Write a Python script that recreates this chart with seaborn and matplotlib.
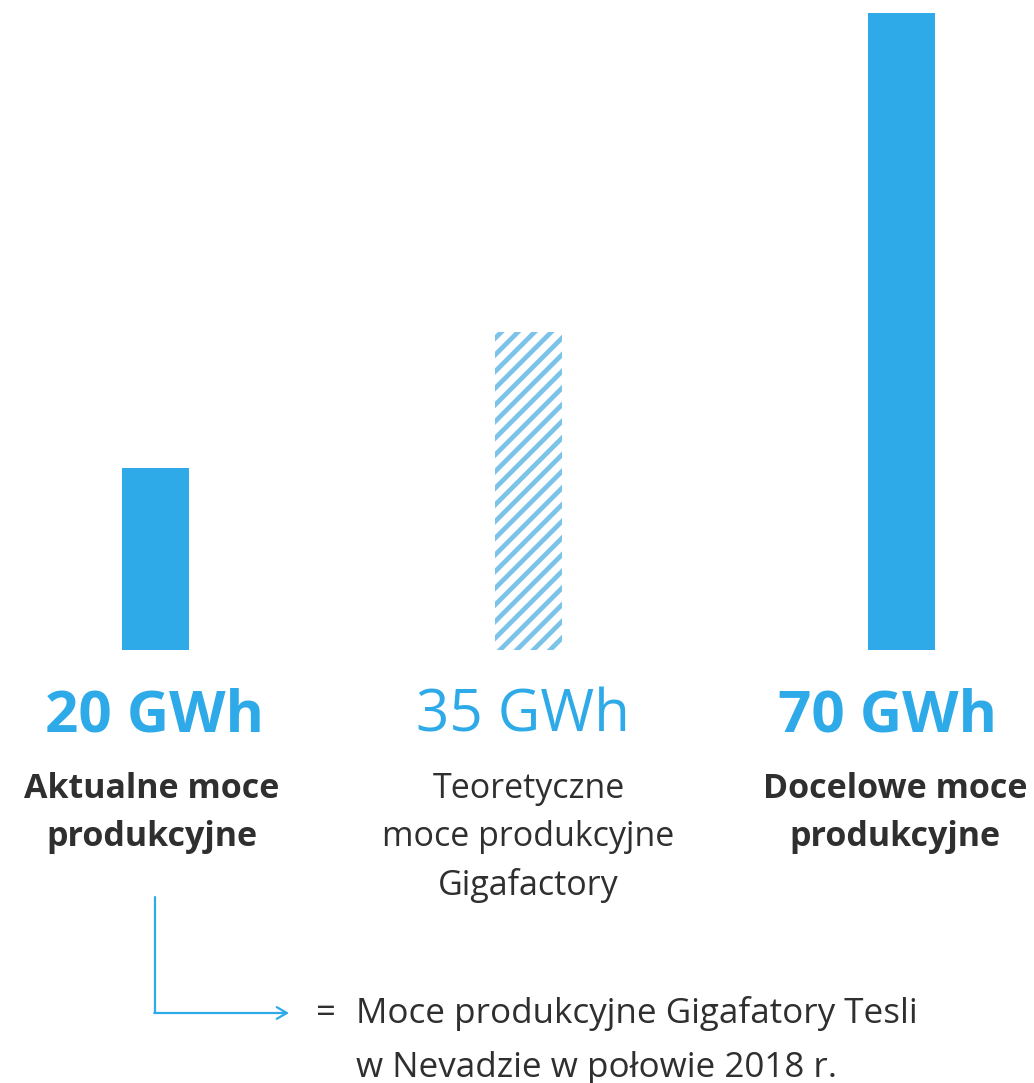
import matplotlib
matplotlib.use("Agg")
import matplotlib.pyplot as plt
import matplotlib.transforms as mtransforms
import seaborn as sns
import pandas as pd

# ---- data ----
categories = ["Aktualne", "Teoretyczne", "Docelowe"]
values = [20, 35, 70]
value_labels = ["20 GWh", "35 GWh", "70 GWh"]
desc_labels = [
    ["Aktualne moce", "produkcyjne"],
    ["Teoretyczne", "moce produkcyjne", "Gigafactory"],
    ["Docelowe moce", "produkcyjne"],
]
note_lines = ["Moce produkcyjne Gigafatory Tesli", "w Nevadzie w połowie 2018 r."]

BLUE = "#2eaae8"
HATCH = "#7cc3ea"
DARK = "#2f2f2f"

sns.set_theme(style="white")
plt.rcParams["font.family"] = ["Open Sans", "DejaVu Sans"]
plt.rcParams["hatch.linewidth"] = 3.4

W, H = 1034, 1083
fig = plt.figure(figsize=(W / 100, H / 100), dpi=100)
fig.patch.set_facecolor("white")

# axes: bottom of bars at y=650px from top
ax_bottom = (H - 650) / H
ax = fig.add_axes([0, ax_bottom, 1, 1 - ax_bottom])
ax.set_facecolor("none")

df = pd.DataFrame({"cat": categories, "val": values})
sns.barplot(data=df, x="cat", y="val", ax=ax, color=BLUE, width=67 / 373,
            saturation=1, linewidth=0)

# hatched middle bar
mid = ax.patches[1]
mid.set_facecolor("white")
mid.set_edgecolor(HATCH)
mid.set_hatch("//")
mid.set_linewidth(0)
for p in (ax.patches[0], ax.patches[2]):
    p.set_edgecolor("none")

spacing = 373.0
ax.set_xlim(-155.5 / spacing, (W - 155.5) / spacing)
ax.set_ylim(0, 650 / 9.1)
ax.axis("off")

trans = mtransforms.blended_transform_factory(ax.transData, fig.transFigure)

def fy(px):
    return (H - px) / H

# value labels
gwh_x = [-0.004, 0.984, 1.963]
weights = ["bold", "normal", "bold"]
for i, lab in enumerate(value_labels):
    ax.text(gwh_x[i], fy(732), lab, transform=trans, ha="center", va="baseline",
            fontsize=42, color=BLUE, fontweight=weights[i])

# descriptive labels
desc_x = [-0.01, 1.0, 1.983]
for i, lines in enumerate(desc_labels):
    for j, line in enumerate(lines):
        ax.text(desc_x[i], fy(798 + j * 48.5), line, transform=trans,
                ha="center", va="baseline", fontsize=24.5, color=DARK,
                fontweight=weights[i])

# arrow connector
fig.add_artist(plt.Line2D([155 / W, 155 / W], [fy(897), fy(1013)],
                          color=BLUE, lw=1.6, transform=fig.transFigure))
ax.annotate("", xy=(289 / W, fy(1013)), xytext=(154.3 / W, fy(1013)),
            xycoords="figure fraction", textcoords="figure fraction",
            arrowprops=dict(arrowstyle="->,head_length=0.6,head_width=0.35",
                            color=BLUE, lw=1.6, shrinkA=0, shrinkB=0))

# note
fig.text(326 / W, fy(1023), "=", ha="center", va="baseline", fontsize=25, color=DARK)
for j, line in enumerate(note_lines):
    fig.text(356 / W, fy(1023 + j * 54), line, ha="left", va="baseline",
             fontsize=25.2, color=DARK)

fig.savefig("out.png", dpi=100, facecolor="white")
